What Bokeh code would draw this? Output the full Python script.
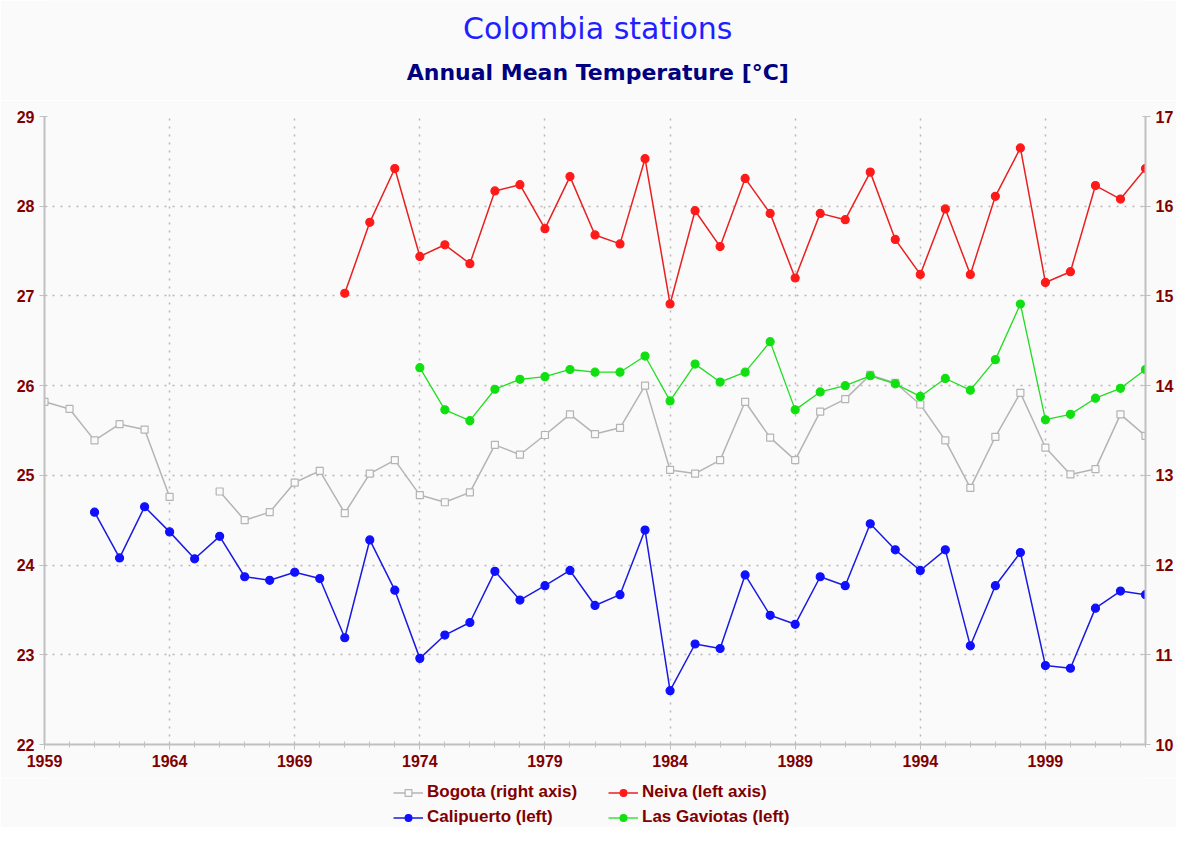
from bokeh.plotting import figure
from bokeh.models import (Range1d, LinearAxis, FixedTicker, Legend, LegendItem,
                          Label, ColumnDataSource)
from bokeh.layouts import column
from bokeh.embed import file_html
from bokeh.resources import INLINE

nan = float("nan")

years = list(range(1959, 2004))
x_ticks = [1959, 1964, 1969, 1974, 1979, 1984, 1989, 1994, 1999]
left_ticks = [22, 23, 24, 25, 26, 27, 28, 29]
right_ticks = [10, 11, 12, 13, 14, 15, 16, 17]

# Bogota, right axis (deg C)
bogota = [13.82, 13.74, 13.39, 13.57, 13.51, 12.76, nan, 12.82, 12.50, 12.59,
          12.92, 13.05, 12.58, 13.02, 13.17, 12.78, 12.70, 12.81, 13.34, 13.23,
          13.45, 13.68, 13.46, 13.53, 14.00, 13.06, 13.02, 13.17, 13.82, 13.42,
          13.17, 13.71, 13.85, 14.12, 14.03, 13.79, 13.39, 12.86, 13.43, 13.92,
          13.31, 13.01, 13.07, 13.68, 13.44]

# Neiva, left axis
neiva = [nan] * 12 + [27.03, 27.82, 28.42, 27.44, 27.57, 27.36, 28.17, 28.24,
                      27.75, 28.33, 27.68, 27.58, 28.53, 26.91, 27.95, 27.55,
                      28.31, 27.92, 27.20, 27.92, 27.85, 28.38, 27.63, 27.24,
                      27.97, 27.24, 28.11, 28.65, 27.15, 27.27, 28.23, 28.08,
                      28.42]

# Calipuerto, left axis
calipuerto = [nan] * 2 + [24.59, 24.08, 24.65, 24.37, 24.07, 24.32, 23.87, 23.83,
                          23.92, 23.85, 23.19, 24.28, 23.72, 22.96, 23.22, 23.36,
                          23.93, 23.61, 23.77, 23.94, 23.55, 23.67, 24.39, 22.60,
                          23.12, 23.07, 23.89, 23.44, 23.34, 23.87, 23.77, 24.46,
                          24.17, 23.94, 24.17, 23.10, 23.77, 24.14, 22.88, 22.85,
                          23.52, 23.71, 23.67]

# Las Gaviotas, left axis
gaviotas = [nan] * 15 + [26.20, 25.73, 25.61, 25.96, 26.07, 26.10, 26.18, 26.15,
                         26.15, 26.33, 25.83, 26.24, 26.04, 26.15, 26.49, 25.73,
                         25.93, 26.00, 26.11, 26.02, 25.88, 26.08, 25.95, 26.29,
                         26.91, 25.62, 25.68, 25.86, 25.97, 26.18]

series_names = ["Bogota (right axis)", "Neiva (left axis)",
                "Calipuerto (left)", "Las Gaviotas (left)"]
title_text = "Colombia stations"
subtitle_text = "Annual Mean Temperature [°C]"

BG = "#fafafa"
LABEL_COLOR = "#800000"
AXIS_COLOR = "#c0c0c0"
W = 1176

# ---------------- header (titles) ----------------
HEAD_H = 100
head = figure(width=W, height=HEAD_H, output_backend="svg", toolbar_location=None,
              x_range=Range1d(0, W), y_range=Range1d(HEAD_H, 0),
              x_axis_type=None, y_axis_type=None,
              background_fill_color=BG, border_fill_color=BG, min_border=0)
head.outline_line_color = None
head.grid.visible = False
head.add_layout(Label(x=591, y=28, text=title_text, text_align="center",
                      text_baseline="middle", text_color="#1f1fff",
                      text_font="DejaVu Sans", text_font_size="30px"))
head.add_layout(Label(x=591, y=72, text=subtitle_text, text_align="center",
                      text_baseline="middle", text_color="#000080",
                      text_font="DejaVu Sans", text_font_style="bold",
                      text_font_size="22px"))

# ---------------- main chart ----------------
p = figure(width=W, height=678, output_backend="svg", toolbar_location=None,
           x_range=Range1d(1959, 2003), y_range=Range1d(22, 29),
           background_fill_color=BG, border_fill_color=BG,
           min_border_left=44, min_border_right=28,
           min_border_top=16, min_border_bottom=34, title=None)
p.outline_line_color = None
p.extra_y_ranges = {"right": Range1d(10, 17)}

p.xaxis.ticker = FixedTicker(ticks=x_ticks, minor_ticks=years)
p.yaxis.ticker = FixedTicker(ticks=left_ticks)
raxis = LinearAxis(y_range_name="right", ticker=FixedTicker(ticks=right_ticks))
p.add_layout(raxis, "right")

for ax in [p.xaxis[0], p.yaxis[0], raxis]:
    ax.axis_line_color = AXIS_COLOR
    ax.axis_line_width = 2
    ax.major_tick_line_color = AXIS_COLOR
    ax.major_tick_line_width = 1
    ax.major_tick_in = 3
    ax.major_tick_out = 5
    ax.minor_tick_line_color = None
    ax.major_label_text_color = LABEL_COLOR
    ax.major_label_text_font = "Liberation Sans"
    ax.major_label_text_font_style = "bold"
    ax.major_label_text_font_size = "16px"
    ax.major_label_standoff = 5

p.xaxis.minor_tick_line_color = AXIS_COLOR
p.xaxis.minor_tick_in = 3
p.xaxis.minor_tick_out = 3

p.xgrid.grid_line_color = "#b8b8b8"
p.xgrid.grid_line_dash = "2 6"
p.xgrid.grid_line_width = 1.5
p.ygrid.grid_line_color = "#b8b8b8"
p.ygrid.grid_line_dash = "2 6"
p.ygrid.grid_line_width = 1.5

src = ColumnDataSource(dict(year=years, bogota=bogota, neiva=neiva,
                            calipuerto=calipuerto, gaviotas=gaviotas))

STYLES = {
    "bogota": dict(line_color="#b4b4b4", line_width=1.5, marker="square", size=7,
                   m_line="#b4b4b4", m_fill=BG, yr="right"),
    "neiva": dict(line_color="#e82020", line_width=1.5, marker="circle", size=8,
                  m_line="#ff1a1a", m_fill="#ff1a1a", yr="default"),
    "calipuerto": dict(line_color="#1a1ae0", line_width=1.5, marker="circle", size=8,
                       m_line="#1010ff", m_fill="#1010ff", yr="default"),
    "gaviotas": dict(line_color="#22dd22", line_width=1.3, marker="circle", size=8,
                     m_line="#10e010", m_fill="#10e010", yr="default"),
}

for key, st in STYLES.items():
    p.line("year", key, source=src, y_range_name=st["yr"],
           line_color=st["line_color"], line_width=st["line_width"])
    p.scatter("year", key, source=src, y_range_name=st["yr"], marker=st["marker"],
              size=st["size"], line_color=st["m_line"], fill_color=st["m_fill"],
              line_width=1.2)

# ---------------- legend strip ----------------
LEG_H = 49
leg = figure(width=W, height=LEG_H, output_backend="svg", toolbar_location=None,
             x_range=Range1d(0, 1), y_range=Range1d(0, 1),
             x_axis_type=None, y_axis_type=None,
             background_fill_color=BG, border_fill_color=BG, min_border=0)
leg.outline_line_color = None
leg.grid.visible = False

# off-range placeholder point: only the legend swatches are visible
offscreen = ColumnDataSource(dict(x=[-5.0], y=[-5.0]))
items = []
for key, name in zip(["bogota", "neiva", "calipuerto", "gaviotas"], series_names):
    st = STYLES[key]
    rl = leg.line("x", "y", source=offscreen, line_color=st["line_color"],
                  line_width=st["line_width"])
    rs = leg.scatter("x", "y", source=offscreen, marker=st["marker"], size=st["size"],
                     line_color=st["m_line"], fill_color=st["m_fill"], line_width=1.2)
    items.append(LegendItem(label=name, renderers=[rl, rs]))

legend = Legend(items=items, orientation="horizontal", ncols=2, location=(349, 0))
legend.label_text_color = LABEL_COLOR
legend.label_text_font = "Liberation Sans"
legend.label_text_font_style = "bold"
legend.label_text_font_size = "17px"
legend.label_height = 17
legend.glyph_height = 17
legend.glyph_width = 30
legend.label_width = 176
legend.label_standoff = 4
legend.spacing = 5
legend.padding = 1
legend.margin = 0
legend.background_fill_alpha = 0
legend.border_line_color = None
leg.add_layout(legend, "center")

layout = column(head, p, leg, spacing=0)
open("out.html", "w").write(file_html(layout, INLINE))
